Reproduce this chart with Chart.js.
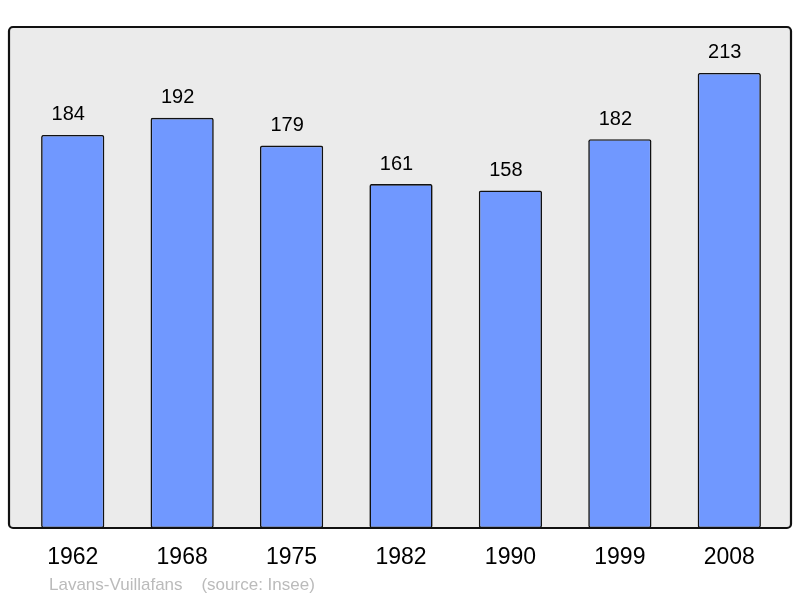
<!DOCTYPE html>
<html>
<head>
<meta charset="utf-8">
<script src="https://cdn.jsdelivr.net/npm/chart.js@4/dist/chart.umd.min.js"></script>
<style>
html,body{margin:0;padding:0;background:#fff;}
#wrap{position:relative;width:800px;height:598px;}
</style>
</head>
<body>
<div id="wrap"><canvas id="c" width="800" height="598"></canvas></div>
<script>
const years = ["1962","1968","1975","1982","1990","1999","2008"];
const population = [184,192,179,161,158,182,213];
const sourceText = "Lavans-Vuillafans    (source: Insee)";

const framePlugin = {
  id: 'frame',
  beforeDraw(chart) {
    const {ctx, chartArea} = chart;
    const l = chartArea.left - 9, r = chartArea.right + 7, t = chartArea.top, b = chartArea.bottom;
    ctx.save();
    ctx.beginPath();
    ctx.roundRect(l, t, r - l, b - t, 4);
    ctx.fillStyle = '#ebebeb';
    ctx.fill();
    ctx.restore();
  },
  afterDatasetsDraw(chart) {
    const {ctx, chartArea} = chart;
    const l = chartArea.left - 9, r = chartArea.right + 7, t = chartArea.top, b = chartArea.bottom;
    ctx.save();
    ctx.beginPath();
    ctx.roundRect(l, t, r - l, b - t, 4);
    ctx.strokeStyle = '#111';
    ctx.lineWidth = 2.2;
    ctx.stroke();
    const meta = chart.getDatasetMeta(0);
    ctx.fillStyle = '#000';
    ctx.font = '20px "Liberation Sans", Arial, sans-serif';
    ctx.textAlign = 'center';
    ctx.textBaseline = 'middle';
    meta.data.forEach((bar, i) => {
      ctx.fillText(String(chart.data.datasets[0].data[i]), bar.x - 4.5, bar.y - 20);
    });
    ctx.font = '17px "Liberation Sans", Arial, sans-serif';
    ctx.fillStyle = '#bbbbbb';
    ctx.textAlign = 'left';
    ctx.fillText(sourceText, 49, 585);
    ctx.restore();
  }
};

new Chart(document.getElementById('c'), {
  type: 'bar',
  data: {
    labels: years,
    datasets: [{
      data: population,
      backgroundColor: '#7098ff',
      borderColor: '#111',
      borderWidth: 1.6,
      borderRadius: 2,
      borderSkipped: false,
      barPercentage: 0.578,
      categoryPercentage: 1
    }]
  },
  options: {
    responsive: false,
    animation: false,
    layout: {padding: {left: 18, right: 16, top: 27, bottom: 0}},
    plugins: {legend: {display: false}, tooltip: {enabled: false}, title: {display: false}},
    scales: {
      x: {
        grid: {display: false, drawTicks: false, tickLength: 0},
        border: {display: false},
        ticks: {color: '#000', font: {family: '"Liberation Sans", Arial, sans-serif', size: 23}, padding: 16, maxRotation: 0},
        afterFit(s) { s.height = 70; }
      },
      y: {
        display: false,
        min: 0,
        max: 234.5
      }
    }
  },
  plugins: [framePlugin]
});
</script>
</body>
</html>
